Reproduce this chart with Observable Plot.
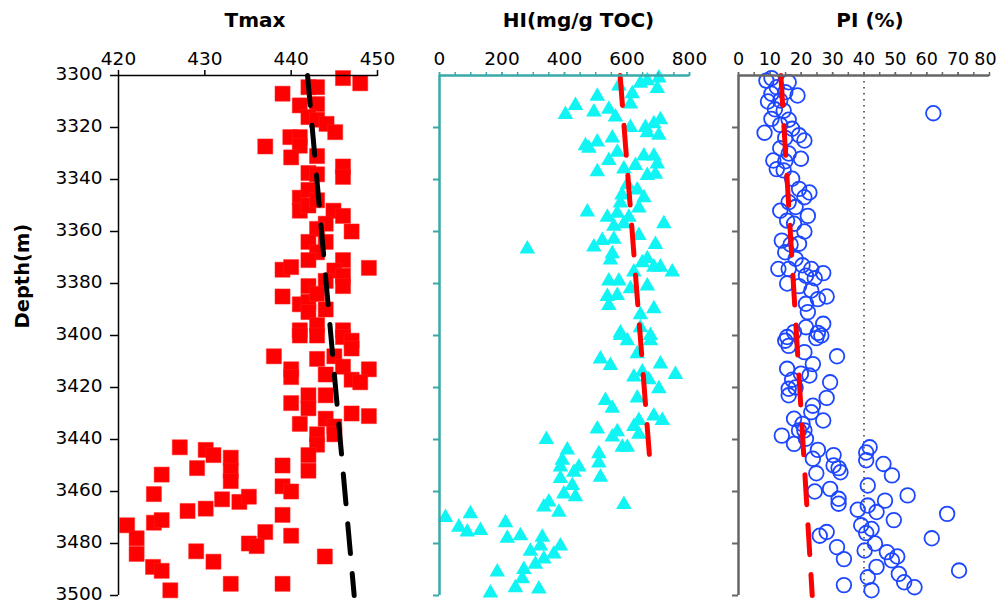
<!DOCTYPE html>
<html>
<head>
<meta charset="utf-8">
<script src="https://cdn.jsdelivr.net/npm/d3@7"></script>
<script src="https://cdn.jsdelivr.net/npm/@observablehq/plot@0.6"></script>
<style>
  body { margin: 0; background: #fff; }
  #wrap { position: relative; width: 997px; height: 604px; overflow: hidden; }
</style>
</head>
<body>
<div id="wrap"></div>
<script>
// ---------- data: [value, depth(m)] ----------
const tmaxPoints = [
  [446.0,3301],[448.0,3303],[439.0,3307],[442.0,3304.5],[443.0,3304.5],[441.0,3311.5],[443.0,3311],
  [442.0,3316],[443.0,3317],[444.1,3318.6],[445.1,3321.8],[439.9,3323.7],[441.0,3323.7],[437.0,3327.3],
  [441.0,3327],[443.0,3331],[440.0,3331.5],[442.0,3337.5],[443.0,3338],[446.0,3335],[446.0,3339],
  [441.0,3347],[442.0,3344],[441.0,3352],[442.0,3350],[443.0,3348],[444.9,3352],[446.0,3354],
  [444.0,3357],[447.0,3360],[443.0,3359],[442.0,3364],[444.0,3364],[443.0,3368],[442.0,3371],
  [446.0,3371],[439.0,3374.7],[440.0,3373.7],[449.0,3374],[445.0,3375],[446.0,3377],[442.0,3381],
  [444.0,3379],[446.0,3381],[439.0,3385],[441.0,3388],[442.0,3387],[443.0,3384],[444.0,3390],
  [442.0,3391],[441.0,3398],[443.0,3396],[446.0,3398],[441,3400],[443,3400],[446,3400.6],[447,3402],
  [447,3405],[438,3408],[443,3409],[445,3408],[446,3412],[449,3413],[440,3413],[440,3416],[444,3415],
  [447,3417],[448,3418],[440,3426],[442,3423],[442,3428],[444,3423],[447,3430],[449,3431],[441,3434],
  [444,3432],[445,3435],[443,3438],[443,3442],[445,3438],[442,3446],[442,3452],[427.1,3443],
  [430.1,3444],[431.0,3446],[433.0,3447],[433,3452],[433,3456],[429.1,3451],[425.0,3453.5],
  [424.1,3461],[432.0,3463],[434.0,3464],[435.1,3462],[428.0,3467.5],[430.1,3466.6],[439,3450],
  [439,3458],[440,3460],[439,3469],[440,3477],[421.0,3473],[422.1,3478],[422.1,3484],[424.1,3472],
  [425,3471],[437,3475.6],[435.1,3480],[436,3481],[429,3483],[431,3487],[424,3489],[425,3490.5],
  [426,3498],[433,3495.5],[439,3495.5],[443.9,3485]
];
const hiPoints = [
  [574,3304],[643,3303],[665,3302],[702,3301],[697,3305],[617,3307],[505,3308],[611,3311],[435,3311.5],
  [403,3315],[494,3314],[542,3313],[563,3316],[611,3320],[659,3320],[686,3318.6],[707,3317],[702,3323],
  [665,3322],[553,3324],[467,3327],[505,3325.6],[478,3328],[569,3329.5],[542,3332.7],[654,3331],
  [686,3331],[697,3334],[627,3334.6],[590,3336],[505,3337],[665,3338.5],[691,3338],[601,3342],
  [633,3344],[654,3347],[584,3346],[579,3349],[638,3351],[473,3352.5],[537,3354.5],[569,3353],
  [606,3354.5],[590,3357],[558,3358],[718,3357],[638,3361.5],[521,3363.5],[494,3366],[558,3363],
  [281,3366.7],[553,3368.6],[547,3371],[691,3365],[665,3370.5],[649,3372],[686,3373.7],[707,3373.7],
  [745,3375.6],[622,3375.6],[542,3379],[574,3379],[665,3381],[611,3382],[537,3385],[569,3384.6],
  [542,3388.5],[686,3389.7],[643,3392],[579,3399],[643,3397],[675,3400],
  [579,3400],[601,3402],[633,3407],[675,3402],[515,3409],[547,3411.5],[707,3411],[755,3415],
  [622,3416],[649,3414],[670,3417],[702,3420.5],[633,3424],[531,3425],[553,3428],[686,3431],
  [713,3432.7],[638,3432.7],[622,3435],[505,3436],[553,3439],[569,3437],[585,3443],[601,3443],
  [638,3438],[342,3440],[409,3444],[393,3448],[387,3450.6],[430,3452.6],[446,3450.6],[387,3455],
  [510,3445.5],[510,3449],[515,3454.5],[425,3457.7],[398,3461],[435,3462],[334,3466],[350,3464],
  [382,3468],[590,3465],[19,3470],[99,3468.6],[62,3473.7],[89,3475.6],[131,3475],[211,3472],
  [217,3478],[259,3477],[329,3477.6],[323,3481],[387,3481],[291,3483],[366,3484],[334,3486],
  [307,3488],[270,3490],[185,3491],[265,3493.6],[243,3497],[163,3499],[318,3497.5]
];
const piPoints = [
  [10.5,3301],[8.9,3302],[16.0,3302.6],[12.2,3304.5],[10.5,3307],[18.8,3307.7],[14.9,3306.4],
  [9.4,3310],[13.3,3309.6],[11.6,3313],[14.4,3313.5],[10.5,3316.7],[16.0,3317],[13.3,3319],
  [8.3,3322],[17.1,3320.5],[19.3,3323],[21.0,3325],[14.9,3324],[13.3,3328],[11.1,3332.7],[16.0,3330],
  [19.9,3332],[12.2,3336],[14.4,3336.5],[14.9,3333],[17.1,3339.7],[22.6,3345],[19.3,3343.6],
  [21.0,3346.8],[13.3,3352],[16.0,3348.7],[22.1,3354],[18.2,3350.6],[15.5,3355.8],[17.7,3357],
  [21.0,3360],[13.8,3363.5],[16.6,3365],[19.3,3364.7],[14.9,3368],[18.2,3370.5],[12.7,3374.4],
  [16.0,3374.4],[20.4,3373],[23.2,3374.4],[27.0,3376],[24.3,3378],[21.5,3377],[15.5,3380],
  [19.3,3381],[23.2,3382.7],[28.1,3385],[25.3,3386],[21.5,3387.8],[22.1,3391],[27.0,3395.5],
  [21.5,3396.8],[15.5,3400.6],[17.7,3398.7],[25.3,3399],[62.1,3314.5],
  [14.9,3402],[16.0,3404],[24.8,3401],[26.4,3400],[21.0,3406.4],[23.7,3411],[31.4,3408],[15.5,3412.8],
  [19.9,3414.7],[22.6,3415.4],[17.1,3417],[29.2,3418],[16.0,3420.5],[18.2,3420],[16.0,3423],
  [28.1,3424],[23.7,3427],[23.2,3429.5],[17.7,3432],[27.0,3432.7],[20.4,3434],[19.3,3436.5],
  [13.8,3438.5],[17.7,3441.7],[21.5,3439.7],[21.0,3436.5],[25.3,3444],[30.3,3446],[23.7,3447.4],
  [31.9,3451],[30.3,3450],[32.5,3452.6],[24.8,3453],[41.8,3443],[40.7,3445],[40.7,3448],[46.2,3449.4],
  [48.9,3453.8],[29.2,3459],[24.3,3460],[31.9,3462.8],[31.9,3464.7],[41.2,3457.7],[53.9,3461.5],
  [46.7,3463.5],[41.2,3465.4],[38.0,3467],[44.0,3467.9],[49.5,3471],[66.5,3468.6],[39.1,3473],
  [42.4,3474.4],[40.7,3476],[25.9,3477],[28.1,3475.6],[61.6,3478],[43.5,3480],[31.4,3481.4],
  [40.2,3482.7],[47.3,3483.3],[50.6,3485],[48.9,3486.5],[33.6,3486],[44.0,3489],[51.1,3491.7],
  [70.3,3490.4],[41.2,3493],[52.8,3494.9],[56.1,3496.8],[33.6,3496],[42.4,3498]
];
// trend lines [value, depth]
const tmaxTrend = [[441.9,3300],[447.3,3500]];
const hiTrend = [[578,3300],[673,3448]];
const piTrend = [[13.5,3300],[23.5,3500]];
const piReference = [40];

// ticks and labels
const depthTicks = [3300,3320,3340,3360,3380,3400,3420,3440,3460,3480,3500];
const tmaxTicks = [420,430,440,450];
const hiTicks = [0,200,400,600,800];
const hiMinorTicks = [0,50,100,150,200,250,300,350,400,450,500,550,600,650,700,750,800];
const piTicks = [0,10,20,30,40,50,60,70];
const piLastTick = [80];
const piMinorTicks = [0,5,10,15,20,25,30,35,40,45,50,55,60,65,70,75,80];
const titles = ["Tmax", "HI(mg/g TOC)", "PI (%)"];
const depthLabel = ["Depth(m)"];

const wrap = document.getElementById("wrap");
const FONT = "DejaVu Sans";
const teal = "#3aa9a9";
const grayAxis = "#666";

function place(svg, left) {
  svg.style.position = "absolute";
  svg.style.left = left + "px";
  svg.style.top = "0px";
  svg.style.overflow = "visible";
  wrap.appendChild(svg);
}
const common = {
  height: 604, marginTop: 75, marginBottom: 9,
  y: {domain: [3300, 3500], reverse: true, label: null},
  style: {fontFamily: FONT, fontSize: "18.5px", background: "transparent", color: "black"}
};

// Panel 1: Tmax
place(Plot.plot({
  ...common,
  width: 400, marginLeft: 118, marginRight: 23,
  x: {domain: [420, 450], label: null},
  marks: [
    Plot.dot(tmaxPoints, {x: d => d[0], y: d => d[1], symbol: "square", r: 8.5, fill: "#ff0000", stroke: "#ff2020", strokeWidth: 0.5}),
    Plot.line(tmaxTrend, {x: d => d[0], y: d => d[1], stroke: "black", strokeWidth: 5, strokeDasharray: "30,20"}),
    Plot.ruleY([3300], {stroke: "black", strokeWidth: 1.5}),
    Plot.ruleX([420], {stroke: "black", strokeWidth: 1.5}),
    Plot.axisX({anchor: "top", ticks: tmaxTicks, tickSize: 6, tickPadding: 5, strokeWidth: 1.5, label: null}),
    Plot.axisY({anchor: "left", ticks: depthTicks, tickSize: 8, strokeWidth: 1.5, tickFormat: () => "", label: null}),
    Plot.axisY({anchor: "left", ticks: depthTicks, tickSize: 0, tickPadding: 16, dy: -1.5, label: null, tickFormat: d => String(d)}),
    Plot.text([titles[0]], {text: d => d, frameAnchor: "top", dx: 7, dy: -55, fontWeight: "bold", fontSize: 20, lineAnchor: "middle"}),
    Plot.text(depthLabel, {text: d => d, frameAnchor: "left", dx: -96, dy: -7, rotate: -90, fontWeight: "bold", fontSize: 19.5, lineAnchor: "middle"})
  ]
}), 0);

// Panel 2: HI
place(Plot.plot({
  ...common,
  width: 310, marginLeft: 39, marginRight: 21,
  x: {domain: [0, 800], label: null},
  marks: [
    Plot.dot(hiPoints, {x: d => d[0], y: d => d[1], symbol: "triangle", r: 5.8, fill: "#10f4f4", stroke: "none"}),
    Plot.line(hiTrend, {x: d => d[0], y: d => d[1], stroke: "#ff0000", strokeWidth: 5, strokeDasharray: "30,20"}),
    Plot.ruleY([3300], {stroke: teal, strokeWidth: 2.5}),
    Plot.ruleX([0], {stroke: teal, strokeWidth: 2.5}),
    Plot.axisX({anchor: "top", ticks: hiMinorTicks, tickSize: 4, stroke: teal, strokeWidth: 1.5, tickFormat: () => "", label: null}),
    Plot.axisX({anchor: "top", ticks: hiTicks, tickSize: 4, tickPadding: 7, stroke: teal, fill: "black", strokeWidth: 1.5, label: null}),
    Plot.axisY({anchor: "left", ticks: depthTicks.slice(1), tickSize: 6, stroke: teal, strokeWidth: 2, tickFormat: () => "", label: null}),
    Plot.text([titles[1]], {text: d => d, frameAnchor: "top", dx: 14, dy: -55, fontWeight: "bold", fontSize: 20, lineAnchor: "middle"})
  ]
}), 400);

// Panel 3: PI
place(Plot.plot({
  ...common,
  width: 287, marginLeft: 28, marginRight: 8,
  x: {domain: [0, 80], label: null},
  marks: [
    Plot.ruleX(piReference, {stroke: "#444", strokeWidth: 1.6, strokeDasharray: "1.5,4.5"}),
    Plot.dot(piPoints, {x: d => d[0], y: d => d[1], r: 7.3, fill: "none", stroke: "#1c46ff", strokeWidth: 1.8}),
    Plot.line(piTrend, {x: d => d[0], y: d => d[1], stroke: "#ff0000", strokeWidth: 5, strokeDasharray: "30,20"}),
    Plot.ruleY([3300], {stroke: grayAxis, strokeWidth: 2.5}),
    Plot.ruleX([0], {stroke: grayAxis, strokeWidth: 2.5}),
    Plot.axisX({anchor: "top", ticks: piMinorTicks, tickSize: 4, stroke: grayAxis, strokeWidth: 1.5, tickFormat: () => "", label: null}),
    Plot.axisX({anchor: "top", ticks: piTicks, tickSize: 4, tickPadding: 7, stroke: grayAxis, fill: "black", strokeWidth: 1.5, fontSize: 17.5, label: null}),
    Plot.axisX({anchor: "top", ticks: piLastTick, tickSize: 0, tickPadding: 11, dx: -4, fill: "black", fontSize: 17.5, label: null}),
    Plot.axisY({anchor: "left", ticks: depthTicks.slice(1), tickSize: 6, stroke: grayAxis, strokeWidth: 2, tickFormat: () => "", label: null}),
    Plot.text([titles[2]], {text: d => d, frameAnchor: "top", dx: 6, dy: -55, fontWeight: "bold", fontSize: 20, lineAnchor: "middle"})
  ]
}), 710);
</script>
</body>
</html>
